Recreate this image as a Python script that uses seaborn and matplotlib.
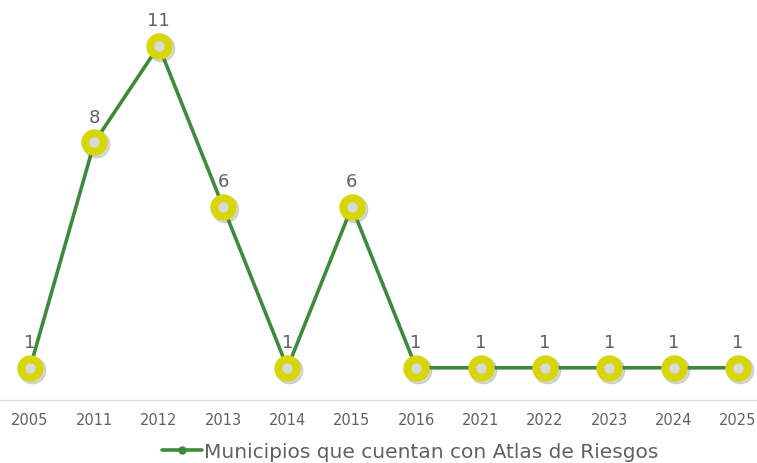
import pandas as pd
import matplotlib.pyplot as plt
import matplotlib.transforms as mtransforms
import seaborn as sns

# Data
years = ['2005', '2011', '2012', '2013', '2014', '2015', '2016',
         '2021', '2022', '2023', '2024', '2025']
municipios = [1, 8, 11, 6, 1, 6, 1, 1, 1, 1, 1, 1]
series_name = 'Municipios que cuentan con Atlas de Riesgos'

line_color = '#3f8a3a'
marker_color = '#d6d60a'
center_color = '#d9d9d9'
text_color = '#606060'

sns.set_style('white')
plt.rcParams['font.family'] = ['DejaVu Sans']

df = pd.DataFrame({'pos': range(len(years)), 'value': municipios})

fig = plt.figure(figsize=(7.57, 4.64), dpi=100)
ax = fig.add_axes([0, 63 / 464, 1, 401 / 464])

# shadow behind markers
shadow = ax.transData + mtransforms.ScaledTranslation(2 / 100, -2 / 100, fig.dpi_scale_trans)
ax.plot(df['pos'], df['value'], linestyle='none', marker='o', markersize=19,
        color='#bdbdbd', alpha=0.6, transform=shadow, zorder=2)

sns.lineplot(data=df, x='pos', y='value', ax=ax, color=line_color, linewidth=2.6,
             marker='o', markersize=19, markerfacecolor=marker_color,
             markeredgewidth=0, zorder=3, label=series_name, legend=False)
ax.plot(df['pos'], df['value'], linestyle='none', marker='o', markersize=6.5,
        color=center_color, zorder=4)

for x, v in zip(df['pos'], df['value']):
    ax.annotate(str(v), (x, v), xytext=(0, 12), textcoords='offset points',
                ha='center', va='bottom', fontsize=13, color=text_color)

ax.set_xlim(-30 / 64.36, 11 + 19 / 64.36)
ax.set_ylim(0, 401 / 32.2)
ax.set_xticks(range(len(years)))
ax.set_xticklabels(years, fontsize=10.5, color=text_color)
ax.tick_params(axis='x', length=0, pad=9)
ax.set_yticks([])
ax.set_xlabel('')
ax.set_ylabel('')
for side in ['top', 'left', 'right']:
    ax.spines[side].set_visible(False)
ax.spines['bottom'].set_color('#d9d9d9')
ax.spines['bottom'].set_linewidth(1)

handle = plt.Line2D([], [], color=line_color, linewidth=2.6, marker='o', markersize=5)
fig.legend([handle], [series_name], loc='center', bbox_to_anchor=(0.542, 0.024),
           frameon=False, fontsize=14.5, labelcolor=text_color, handlelength=2.0,
           handletextpad=0.1, borderaxespad=0)

fig.savefig('out.png', dpi=100)
